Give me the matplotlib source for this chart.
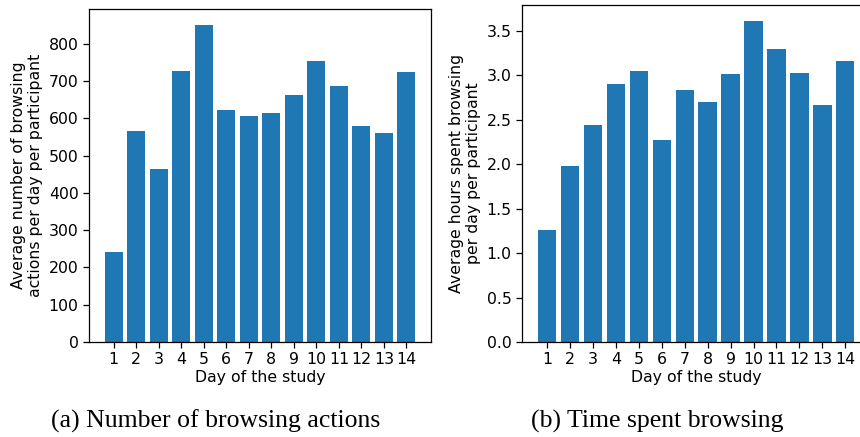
import matplotlib
matplotlib.use("Agg")
import matplotlib.pyplot as plt

# per-day averages over the 14 study days
days = list(range(1, 15))
actions = [241, 566, 464, 728, 851, 623, 606, 614, 662, 754, 687, 580, 560, 725]
hours = [1.26, 1.98, 2.44, 2.90, 3.05, 2.27, 2.835, 2.70, 3.015, 3.61, 3.30, 3.03, 2.665, 3.16]

plt.rcParams['font.size'] = 11.3
plt.rcParams['axes.linewidth'] = 0.9
plt.rcParams['xtick.major.size'] = 4
plt.rcParams['ytick.major.size'] = 4
plt.rcParams['xtick.major.width'] = 0.9
plt.rcParams['ytick.major.width'] = 0.9

fig = plt.figure(figsize=(8.6, 4.37), dpi=100)

ax1 = fig.add_axes([0.1035, 0.2174, 0.3977, 0.762])
ax1.bar(days, actions, color='#1f77b4')
ax1.set_xticks(days)
ax1.set_xlabel('Day of the study', labelpad=2)
ax1.set_ylabel('Average number of browsing\nactions per day per participant')

ax2 = fig.add_axes([0.607, 0.2174, 0.405, 0.771])
ax2.bar(days, hours, color='#1f77b4')
ax2.set_xticks(days)
ax2.set_xlabel('Day of the study', labelpad=2)
ax2.set_ylabel('Average hours spent browsing\nper day per participant')

# subfigure captions
fig.text(216 / 860, 1 - 421 / 437, '(a) Number of browsing actions',
         family='Liberation Serif', fontsize=18.5, ha='center', va='center')
fig.text(657 / 860, 1 - 421 / 437, '(b) Time spent browsing',
         family='Liberation Serif', fontsize=18.5, ha='center', va='center')

fig.savefig('out.png', dpi=100)
